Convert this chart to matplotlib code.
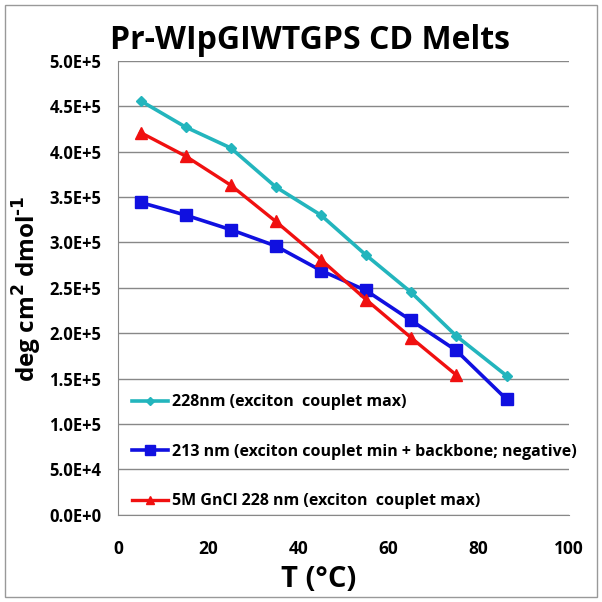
import matplotlib.pyplot as plt
import numpy as np

plt.rcParams['font.family'] = ['Open Sans', 'DejaVu Sans']

temp = [5, 15, 25, 35, 45, 55, 65, 75, 86.2]
temp_gn = [5, 15, 25, 35, 45, 55, 65, 75]
cd_228 = [4.56e5, 4.27e5, 4.04e5, 3.61e5, 3.30e5, 2.86e5, 2.45e5, 1.97e5, 1.53e5]
cd_213 = [3.44e5, 3.30e5, 3.14e5, 2.96e5, 2.69e5, 2.47e5, 2.14e5, 1.81e5, 1.27e5]
cd_gn = [4.21e5, 3.95e5, 3.63e5, 3.23e5, 2.81e5, 2.37e5, 1.95e5, 1.54e5]

labels = ['228nm (exciton  couplet max)',
          '213 nm (exciton couplet min + backbone; negative)',
          '5M GnCl 228 nm (exciton  couplet max)']
yticks = np.arange(0, 5.01e5, 0.5e5)
ytick_labels = ['%.1fE+%d' % (v / 10**int(np.log10(v)), int(np.log10(v))) if v > 0 else '0.0E+0' for v in yticks]

fig = plt.figure(figsize=(6.02, 6.02), dpi=100)
ax = fig.add_axes([0.196, 0.145, 0.749, 0.754])

l1, = ax.plot(temp, cd_228, color='#23b5bd', lw=2.6, marker='D', ms=5.5, label=labels[0])
l2, = ax.plot(temp, cd_213, color='#1010e0', lw=2.6, marker='s', ms=9, label=labels[1])
l3, = ax.plot(temp_gn, cd_gn, color='#f01010', lw=2.4, marker='^', ms=9, label=labels[2])

ax.set_xlim(0, 100)
ax.set_ylim(0, 5e5)
ax.set_yticks(yticks)
ax.set_yticklabels(ytick_labels, fontsize=12, fontweight='bold')
ax.set_xticks([0, 20, 40, 60, 80, 100])
ax.set_xticklabels(['0', '20', '40', '60', '80', '100'], fontsize=12.5, fontweight='bold')
ax.tick_params(length=0)
ax.tick_params(axis='y', pad=12)
ax.tick_params(axis='x', pad=18)
ax.yaxis.grid(True, color='#888888', lw=1)
ax.set_axisbelow(True)
for s in ['top', 'right']:
    ax.spines[s].set_visible(False)
ax.spines['left'].set_color('#888888')
ax.spines['bottom'].set_color('#888888')

# legend rows sit between the lower gridlines
legend_kw = dict(loc='center left', frameon=False, prop={'size': 11.5, 'weight': 'bold'},
                 handlelength=2.2, handletextpad=0.3)
leg1 = ax.legend(handles=[l1], bbox_to_anchor=(0.0, 0.248), markerscale=0.8, **legend_kw)
ax.add_artist(leg1)
leg2 = ax.legend(handles=[l2], bbox_to_anchor=(0.0, 0.138), markerscale=0.8, **legend_kw)
ax.add_artist(leg2)
ax.legend(handles=[l3], bbox_to_anchor=(0.0, 0.03), markerscale=0.6, **legend_kw)

fig.text(0.515, 0.932, 'Pr-WIpGIWTGPS CD Melts', ha='center', va='center', fontsize=23, fontweight='bold')
fig.text(0.53, 0.038, 'T (°C)', ha='center', va='center', fontsize=21, fontweight='bold')
fig.text(0.045, 0.52, 'deg cm$^{\\mathbf{2}}$ dmol$^{\\mathbf{\u2010}\\mathbf{1}}$', ha='center', va='center',
         rotation=90, fontsize=17.5, fontweight='bold')

fig.patches.append(plt.Rectangle((0.008, 0.008), 0.984, 0.984, transform=fig.transFigure,
                                 fill=False, edgecolor='#999999', lw=1))

fig.savefig('out.png', dpi=100)
